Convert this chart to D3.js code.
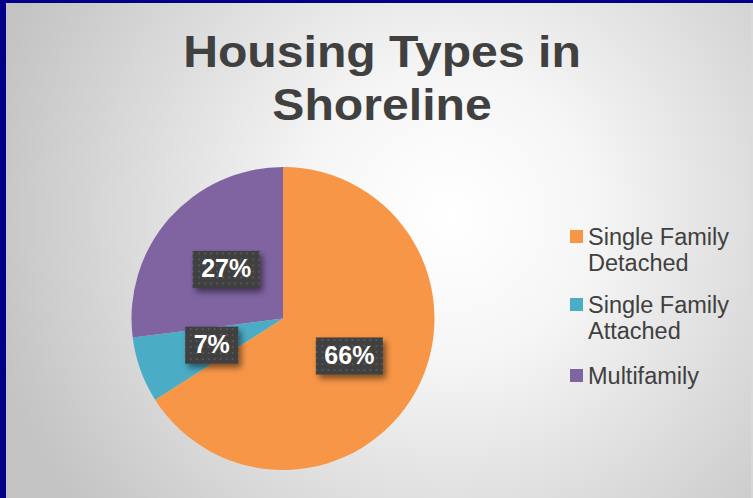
<!DOCTYPE html>
<html>
<head>
<meta charset="utf-8">
<script src="https://cdn.jsdelivr.net/npm/d3@7/dist/d3.min.js"></script>
<style>
  html, body { margin: 0; padding: 0; overflow: hidden; }
  svg { display: block; }
</style>
</head>
<body>
<script>
const categories = ["Single Family Detached", "Single Family Attached", "Multifamily"];
const legendLines = [["Single Family", "Detached"], ["Single Family", "Attached"], ["Multifamily"]];
const values = [66, 7, 27];
const colors = ["#F79646", "#4BACC6", "#8064A2"];
const titleLines = ["Housing Types in", "Shoreline"];

const W = 753, H = 498;
const svg = d3.select("body").append("svg").attr("width", W).attr("height", H);
const defs = svg.append("defs");

const bg = defs.append("radialGradient").attr("id", "bg")
  .attr("gradientUnits", "userSpaceOnUse")
  .attr("cx", 450).attr("cy", 215).attr("r", 470);
bg.append("stop").attr("offset", "0%").attr("stop-color", "#ffffff");
bg.append("stop").attr("offset", "30%").attr("stop-color", "#f6f6f6");
bg.append("stop").attr("offset", "100%").attr("stop-color", "#c4c4c4");

const pat = defs.append("pattern").attr("id", "dots")
  .attr("patternUnits", "userSpaceOnUse").attr("width", 6).attr("height", 6);
pat.append("rect").attr("width", 6).attr("height", 6).attr("fill", "#3f3f3f");
pat.append("rect").attr("x", 2).attr("y", 2).attr("width", 2).attr("height", 2).attr("fill", "#565656");

const shadow = defs.append("filter").attr("id", "shadow")
  .attr("x", "-30%").attr("y", "-30%").attr("width", "170%").attr("height", "180%");
shadow.append("feDropShadow").attr("dx", 3).attr("dy", 4).attr("stdDeviation", 3)
  .attr("flood-color", "#000").attr("flood-opacity", 0.5);

// border + background
svg.append("rect").attr("width", W).attr("height", H).attr("fill", "#000088");
svg.append("rect").attr("x", 6).attr("y", 3).attr("width", W - 6).attr("height", H - 3).attr("fill", "url(#bg)");
svg.append("rect").attr("x", 751).attr("y", 3).attr("width", 2).attr("height", H - 3).attr("fill", "#dcdcdc").attr("opacity", 0.6);

// title
svg.append("g").attr("transform", "translate(382,0) scale(1.07,1)")
  .selectAll("text").data(titleLines).join("text")
  .attr("x", 0).attr("y", (d, i) => 67 + i * 53)
  .attr("text-anchor", "middle")
  .attr("font-family", "Liberation Sans, Arial, sans-serif")
  .attr("font-weight", "bold").attr("font-size", 45)
  .attr("fill", "#404040")
  .text(d => d);

// pie
const cx = 283, cy = 318.5, r = 151.5;
const pie = d3.pie().sort(null).value(d => d)(values);
const arc = d3.arc().innerRadius(0).outerRadius(r);
const labelArc = d3.arc().innerRadius(r * 0.5).outerRadius(r * 0.5);
const total = d3.sum(values);

const g = svg.append("g").attr("transform", `translate(${cx},${cy})`);
g.selectAll("path").data(pie).join("path")
  .attr("d", arc)
  .attr("fill", (d, i) => colors[i]);

const lab = g.selectAll("g.lab").data(pie).join("g").attr("class", "lab")
  .attr("transform", d => `translate(${labelArc.centroid(d)})`);
lab.each(function(d) {
  const sel = d3.select(this);
  const rect = sel.append("rect").attr("fill", "url(#dots)").attr("filter", "url(#shadow)");
  const t = sel.append("text")
    .attr("text-anchor", "middle").attr("dy", "0.35em")
    .attr("font-family", "Liberation Sans, Arial, sans-serif")
    .attr("font-weight", "bold").attr("font-size", 25)
    .attr("fill", "#ffffff")
    .text(Math.round(d.data / total * 100) + "%");
  const bb = t.node().getBBox();
  const pw = 8.5, h = 37;
  rect.attr("x", bb.x - pw).attr("y", -h / 2 + 1).attr("width", bb.width + 2 * pw).attr("height", h);
});

// legend
const legendTops = [230, 298, 369];
const leg = svg.append("g");
categories.forEach((c, i) => {
  const gg = leg.append("g");
  gg.append("rect").attr("x", 570).attr("y", legendTops[i]).attr("width", 13).attr("height", 13).attr("fill", colors[i]);
  gg.selectAll("text").data(legendLines[i]).join("text")
    .attr("x", 588).attr("y", (d, j) => legendTops[i] + 15 + j * 26)
    .attr("font-family", "Liberation Sans, Arial, sans-serif")
    .attr("font-size", 23.5).attr("fill", "#404040")
    .text(d => d);
});
</script>
</body>
</html>
